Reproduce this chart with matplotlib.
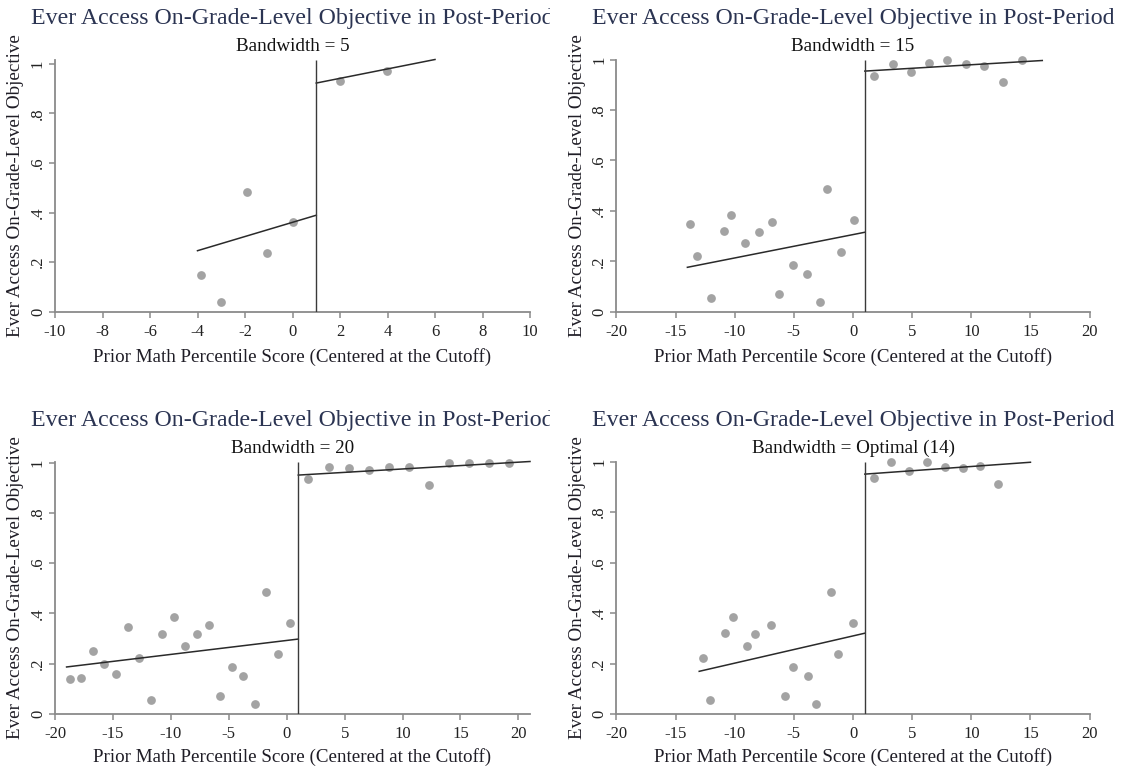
import matplotlib
matplotlib.use("Agg")
import matplotlib.pyplot as plt
from matplotlib.transforms import Bbox, TransformedBbox
import numpy as np

plt.rcParams["font.family"] = ["Liberation Serif", "DejaVu Serif"]
plt.rcParams["axes.unicode_minus"] = False

title = "Ever Access On-Grade-Level Objective in Post-Period"
xlabel = "Prior Math Percentile Score (Centered at the Cutoff)"
ylabel = "Ever Access On-Grade-Level Objective"
cutoff = 1

subtitles = ["Bandwidth = 5", "Bandwidth = 15", "Bandwidth = 20", "Bandwidth = Optimal (14)"]
bandwidths = [5, 15, 20, 14]

# binned means, one list per bandwidth
bw5_x = [-3.86, -3.03, -1.91, -1.08, 0.01, 2.0, 3.98]
bw5_y = [0.150, 0.039, 0.483, 0.236, 0.360, 0.929, 0.970]

bw15_x = [-13.75, -13.2, -12.02, -10.87, -10.29, -9.14, -7.98, -6.83, -6.25, -5.1,
          -3.92, -2.8, -2.22, -1.03, 0.12, 1.79, 3.34, 4.89, 6.43, 7.98, 9.56, 11.1,
          12.69, 14.26]
bw15_y = [0.348, 0.221, 0.056, 0.320, 0.384, 0.273, 0.318, 0.354, 0.070, 0.185,
          0.150, 0.038, 0.485, 0.238, 0.363, 0.935, 0.983, 0.950, 0.987, 1.0, 0.984,
          0.975, 0.911, 1.0]

bw20_x = [-18.73, -17.75, -16.73, -15.74, -14.75, -13.73, -12.75, -11.73, -10.74,
          -9.72, -8.77, -7.75, -6.73, -5.74, -4.75, -3.73, -2.75, -1.76, -0.74, 0.25,
          1.88, 3.61, 5.34, 7.07, 8.8, 10.52, 12.25, 13.98, 15.71, 17.44, 19.17]
bw20_y = [0.138, 0.144, 0.252, 0.199, 0.159, 0.347, 0.224, 0.056, 0.320, 0.384,
          0.272, 0.318, 0.352, 0.073, 0.187, 0.152, 0.041, 0.485, 0.238, 0.363,
          0.934, 0.981, 0.980, 0.972, 0.981, 0.983, 0.911, 1.0, 1.0, 1.0, 1.0]

bw14_x = [-12.72, -12.05, -10.83, -10.17, -8.92, -8.25, -6.95, -5.71, -5.04, -3.79,
          -3.13, -1.85, -1.24, 0.03, 1.76, 3.25, 4.73, 6.22, 7.74, 9.26, 10.74, 12.23]
bw14_y = [0.222, 0.056, 0.319, 0.384, 0.271, 0.317, 0.352, 0.071, 0.187, 0.151,
          0.041, 0.484, 0.238, 0.362, 0.934, 1.0, 0.963, 1.0, 0.978, 0.974, 0.983, 0.911]

# linear fit values at (cutoff - bw, cutoff) and (cutoff, cutoff + bw)
fit_left = [(0.246, 0.389), (0.176, 0.315), (0.187, 0.298), (0.169, 0.320)]
fit_right = [(0.922, 1.017), (0.954, 0.996), (0.950, 1.004), (0.950, 0.997)]

xticks = [np.arange(-10, 11, 2), np.arange(-20, 21, 5), np.arange(-20, 21, 5), np.arange(-20, 21, 5)]
yticks = [0, 0.2, 0.4, 0.6, 0.8, 1.0]
yticklabels = ["0", ".2", ".4", ".6", ".8", "1"]

xs = [bw5_x, bw15_x, bw20_x, bw14_x]
ys = [bw5_y, bw15_y, bw20_y, bw14_y]

W, H = 1123, 772
fig = plt.figure(figsize=(W / 100, H / 100), dpi=100)

# pixel boxes: (left, right) per column, (top, bottom) per row
cols = [(55, 530), (616.4, 1089.6)]
rows = [(59.5, 311.7), (461.5, 714)]
title_base = [24, 426]
sub_base = [50.7, 453.3]
xlab_drop = [50, 48]

axis_grey = "#8a8a8a"
for i in range(4):
    r, c = divmod(i, 2)
    l, rr = cols[c]
    t, b = rows[r]
    ax = fig.add_axes([l / W, 1 - b / H, (rr - l) / W, (b - t) / H])

    bw = bandwidths[i]
    x0, x1 = cutoff - bw, cutoff + bw
    top = max(max(ys[i]), max(fit_right[i]), max(fit_left[i]))
    ax.set_xlim(min(xticks[i][0], x0), max(xticks[i][-1], x1))
    ax.set_ylim(0, top)

    ax.plot(xs[i], ys[i], "o", color="#a3a3a3", markersize=6.3,
            markeredgewidth=0, clip_on=False, zorder=2)
    ax.plot([x0, cutoff], fit_left[i], color="#2a2a2a", lw=1.1, zorder=3)
    ax.plot([cutoff, x1], fit_right[i], color="#2a2a2a", lw=1.1, zorder=3,
            clip_on=False)
    ax.vlines(cutoff, 0, top, color="#3a3a3a", lw=1.0, zorder=3)

    for s in ["top", "right"]:
        ax.spines[s].set_visible(False)
    for s in ["left", "bottom"]:
        ax.spines[s].set_color(axis_grey)
        ax.spines[s].set_linewidth(1.3)

    ax.set_xticks(xticks[i])
    ax.set_xticklabels([str(v) for v in xticks[i]])
    ax.set_yticks(yticks)
    ax.set_yticklabels(yticklabels, rotation=90, va="center")
    ax.tick_params(axis="both", direction="out", length=4, width=1.1,
                   color=axis_grey, labelsize=12, labelcolor="#222222")
    ax.tick_params(axis="x", pad=4.5)
    ax.tick_params(axis="y", pad=2.5)

    ax.set_xlabel(xlabel, fontsize=13.7, color="#1f1d26")
    ax.xaxis.label.set_va("baseline")
    ax.xaxis.set_label_coords(0.5, -xlab_drop[r] / (b - t))
    ax.set_ylabel(ylabel, fontsize=13.7, color="#1f1d26")
    ax.yaxis.label.set_va("baseline")
    ax.yaxis.set_label_coords(-0.0737, 0.5)

    cx = (l + rr) / 2 / W
    tt = fig.text(cx, 1 - title_base[r] / H, title, ha="center", va="baseline",
                  fontsize=17.2, color="#2b3452")
    if c == 0:
        # left-hand titles run past the panel edge and get cut off
        tt.set_clip_box(TransformedBbox(Bbox([[0, 0], [550 / W, 1]]), fig.transFigure))
        tt.set_clip_on(True)
    fig.text(cx, 1 - sub_base[r] / H, subtitles[i], ha="center", va="baseline",
             fontsize=13.8, color="#111111")

fig.savefig("out.png", dpi=100)
